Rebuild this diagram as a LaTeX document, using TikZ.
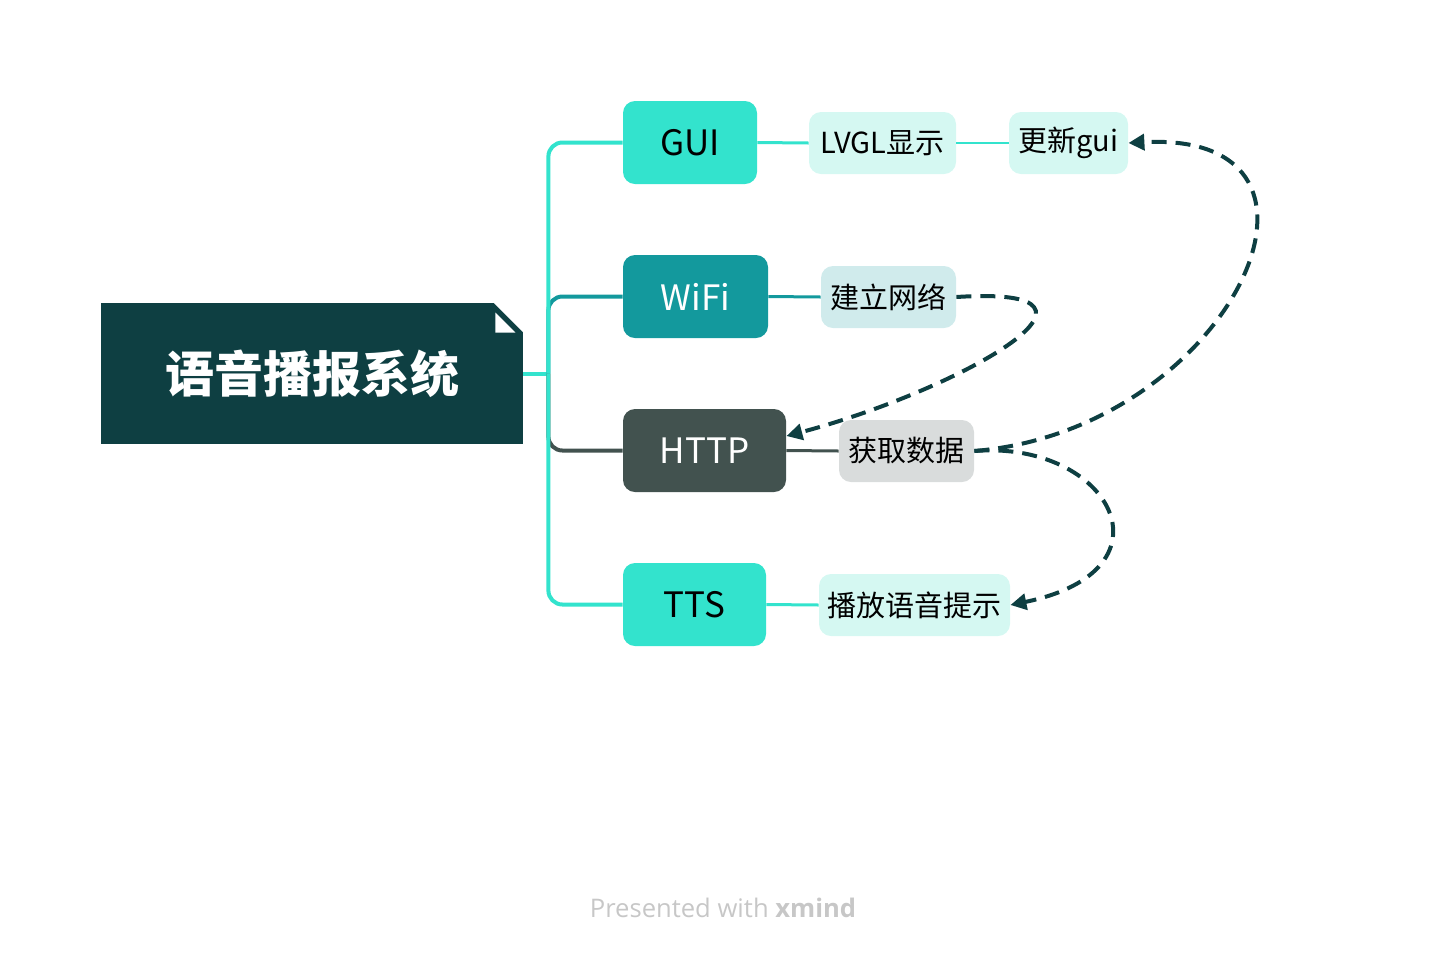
\documentclass[tikz,border=0pt]{standalone}
\usepackage{fontspec}
\setmainfont{Noto Sans CJK SC}
\newfontfamily\footfont{Open Sans}
\usepackage{tikz}
\usetikzlibrary{arrows.meta}
\definecolor{rootcol}{HTML}{0E3F42}
\definecolor{turq}{HTML}{33E3CD}
\definecolor{teal}{HTML}{13999D}
\definecolor{slate}{HTML}{42524F}
\definecolor{turqlight}{HTML}{D5F8F2}
\definecolor{teallight}{HTML}{D0EBEC}
\definecolor{slatelight}{HTML}{D9DCDC}

\begin{document}
\begin{tikzpicture}[x=0.5pt,y=-0.5pt,
  root/.style={fill=rootcol,text=white,minimum width=211pt,minimum height=70.5pt,inner sep=0pt,font=\fontsize{24.5}{24.5}\selectfont\bfseries},
  topic/.style={rounded corners=6pt,minimum height=41.5pt,inner sep=0pt,font=\fontsize{17.5}{17.5}\selectfont},
  sub/.style={rounded corners=6pt,minimum height=31pt,inner sep=0pt,font=\fontsize{14.5}{14.5}\selectfont},
  brc/.style={line width=2pt,rounded corners=7pt},
  subline/.style={line width=1.5pt},
  rel/.style={rootcol,line width=2pt,dash pattern=on 7.5pt off 4.5pt,-{Triangle[length=8pt,width=8pt]}}
]
  \useasboundingbox (0,0) rectangle (1448,960);
  % central topic with folded corner
  \node[root] (root) at (312,373.5) {语音播报系统};
  \fill[white] (root.north east) -- ++(-30,0) -- ++(30,30) -- cycle;
  \fill[white] (root.north east) ++(-28,10) -- ++(0,20) -- ++(20,0) -- cycle;
  % main topics
  \node[topic,fill=turq,minimum width=67pt]    (gui)  at (690,142.5)   {GUI};
  \node[topic,fill=teal,text=white,minimum width=72.5pt]  (wifi) at (695.5,296.5) {WiFi};
  \node[topic,fill=slate,text=white,minimum width=81.5pt] (http) at (704.5,450.5) {HTTP};
  \node[topic,fill=turq,minimum width=71.5pt]  (tts)  at (694.5,604.5) {TTS};
  % subtopics
  \node[sub,fill=turqlight,minimum width=73.5pt]  (lvgl)  at (882.5,143)  {LVGL显示};
  \node[sub,fill=turqlight,minimum width=59.5pt]  (upd)   at (1068.5,143) {更新gui};
  \node[sub,fill=teallight,minimum width=67.5pt]  (net)   at (888.5,297)  {建立网络};
  \node[sub,fill=slatelight,minimum width=67.5pt] (fetch) at (906.5,451)  {获取数据};
  \node[sub,fill=turqlight,minimum width=95.5pt]  (voice) at (914.5,605)  {播放语音提示};
  % branches
  \draw[brc,turq]  (root.east) -- ++(25,0) coordinate (hub);
  \draw[brc,teal]  (hub) |- (wifi.west);
  \draw[brc,slate] (hub) |- (http.west);
  \draw[brc,turq]  (hub) |- (gui.west);
  \draw[brc,turq]  (hub) |- (tts.west);
  \draw[subline,turq]  (gui.east)  -- (lvgl.west);
  \draw[line width=1pt,turq] (lvgl.east) -- (upd.west);
  \draw[subline,teal]  (wifi.east) -- (net.west);
  \draw[subline,slate] (http.east) -- (fetch.west);
  \draw[subline,turq]  (tts.east)  -- (voice.west);
  % relationships
  \draw[rel] (net.east) .. controls (1145,285) and (960,390) .. (http.10);
  \draw[rel] (fetch.east) .. controls (1230,430) and (1370,130) .. (upd.east);
  \draw[rel] (fetch.east) .. controls (1110,440) and (1180,570) .. (voice.east);
  % footer
  \node[font=\footfont\fontsize{12.8}{12.8}\selectfont,text=black!22] (credit) at (723,908) {Presented with \textbf{xmind}};
\end{tikzpicture}
\end{document}
